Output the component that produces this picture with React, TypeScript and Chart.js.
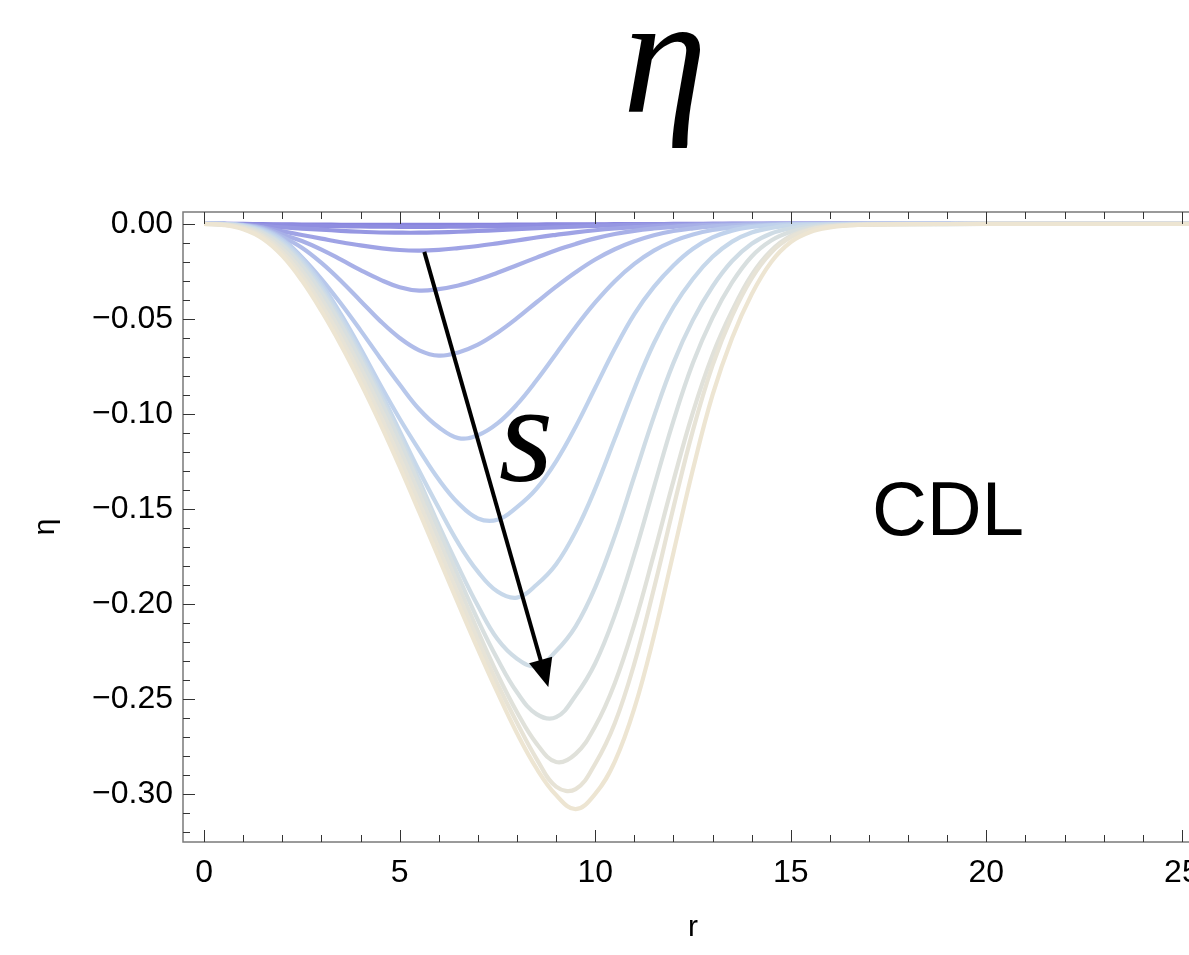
import React, { useEffect, useRef } from "react";
import { Chart, registerables } from "chart.js";

Chart.register(...registerables);

// radial coordinate samples
const R_VALUES = [
  0, 0.5, 1, 1.5, 2, 2.5, 3, 3.5, 4, 4.5, 5, 5.5, 6, 6.5, 7, 7.5, 8, 8.5,
  9, 9.5, 10, 10.5, 11, 11.5, 12, 12.5, 13, 13.5, 14, 14.5, 15, 15.5, 16, 16.5, 17, 18, 20, 26,
];

// eta(r) for increasing s
const ETA_S1 = [
  0, 0, 0, -0.0001, -0.0002, -0.0003, -0.0003, -0.0004, -0.0004, -0.0005, -0.0005, -0.0005, -0.0005, -0.0005, -0.0004, -0.0004, -0.0003, -0.0003,
  -0.0002, -0.0002, -0.0002, -0.0001, -0.0001, -0.0001, 0, 0, 0, 0, 0, 0, 0, 0, 0, 0, 0, 0, 0, 0,
];
const ETA_S2 = [
  0, 0, -0.0001, -0.0004, -0.0006, -0.0008, -0.001, -0.0012, -0.0013, -0.0014, -0.0015, -0.0015, -0.0015, -0.0014, -0.0013, -0.0012, -0.001, -0.0009,
  -0.0007, -0.0006, -0.0005, -0.0004, -0.0003, -0.0002, -0.0001, -0.0001, 0, 0, 0, 0, 0, 0, 0, 0, 0, 0, 0, 0,
];
const ETA_S3 = [
  0, 0, -0.0003, -0.001, -0.0018, -0.0024, -0.003, -0.0036, -0.0041, -0.0045, -0.0046, -0.0046, -0.0044, -0.0041, -0.0037, -0.0032, -0.0027, -0.0022,
  -0.0018, -0.0014, -0.001, -0.0007, -0.0005, -0.0004, -0.0002, -0.0001, -0.0001, 0, 0, 0, 0, 0, 0, 0, 0, 0, 0, 0,
];
const ETA_S4 = [
  0, 0, -0.0004, -0.0018, -0.0038, -0.0058, -0.0077, -0.0096, -0.0113, -0.0127, -0.0137, -0.014, -0.0136, -0.0127, -0.0116, -0.0102, -0.0087, -0.0071,
  -0.0057, -0.0044, -0.0033, -0.0024, -0.0017, -0.0011, -0.0007, -0.0005, -0.0003, -0.0002, -0.0001, 0, 0, 0, 0, 0, 0, 0, 0, 0,
];
const ETA_S5 = [
  0, 0, -0.0005, -0.0019, -0.0055, -0.009, -0.0135, -0.0188, -0.0243, -0.0293, -0.0333, -0.0351, -0.0343, -0.0324, -0.0294, -0.0257, -0.0217, -0.0177,
  -0.0138, -0.0105, -0.0076, -0.0053, -0.0036, -0.0024, -0.0015, -0.0009, -0.0005, -0.0003, -0.0001, 0, 0, 0, 0, 0, 0, 0, 0, 0,
];
const ETA_S6 = [
  0, 0, -0.0006, -0.0024, -0.0068, -0.0125, -0.0205, -0.03, -0.0405, -0.051, -0.06, -0.0665, -0.0693, -0.0676, -0.0635, -0.0572, -0.0496, -0.0412,
  -0.033, -0.0254, -0.0187, -0.0133, -0.0091, -0.0059, -0.0037, -0.0023, -0.0013, -0.0007, -0.0004, -0.0002, -0.0001, 0, 0, 0, 0, 0, 0, 0,
];
const ETA_S7 = [
  0, 0, -0.0007, -0.0028, -0.008, -0.0175, -0.029, -0.042, -0.056, -0.0705, -0.0845, -0.0975, -0.107, -0.1127, -0.1112, -0.105, -0.095, -0.0823,
  -0.0683, -0.0542, -0.0413, -0.0301, -0.021, -0.014, -0.009, -0.0055, -0.0032, -0.0018, -0.001, -0.0005, -0.0002, -0.0001, 0, 0, 0, 0, 0, 0,
];
const ETA_S8 = [
  0, 0, -0.0008, -0.0033, -0.0087, -0.0181, -0.0314, -0.0476, -0.0655, -0.0845, -0.1025, -0.119, -0.1345, -0.147, -0.155, -0.1557, -0.149, -0.1393,
  -0.1249, -0.1067, -0.0862, -0.0657, -0.0474, -0.0331, -0.0218, -0.013, -0.0071, -0.0035, -0.0016, -0.0007, -0.0003, -0.0002, -0.0001, 0, 0, 0, 0, 0,
];
const ETA_S9 = [
  0, -0.0001, -0.001, -0.0038, -0.0096, -0.0194, -0.033, -0.0494, -0.0678, -0.0879, -0.109, -0.13, -0.1495, -0.168, -0.183, -0.1935, -0.1967, -0.1899,
  -0.1791, -0.1619, -0.1393, -0.1131, -0.0867, -0.0628, -0.0437, -0.0288, -0.0173, -0.0093, -0.0045, -0.0021, -0.0009, -0.0005, -0.0002, -0.0001, 0, 0, 0, 0,
];
const ETA_S10 = [
  0, -0.0001, -0.0013, -0.0043, -0.0105, -0.0207, -0.0346, -0.0512, -0.0697, -0.09, -0.1118, -0.1349, -0.1585, -0.1805, -0.201, -0.2185, -0.2288, -0.2327,
  -0.2248, -0.2118, -0.1913, -0.1643, -0.1328, -0.1014, -0.0731, -0.0505, -0.0329, -0.0195, -0.0104, -0.005, -0.0023, -0.001, -0.0005, -0.0003, -0.0001, 0, 0, 0,
];
const ETA_S11 = [
  0, -0.0002, -0.0015, -0.0048, -0.0114, -0.022, -0.0362, -0.053, -0.0717, -0.0922, -0.1141, -0.1373, -0.1613, -0.1855, -0.2085, -0.229, -0.2465, -0.258,
  -0.2596, -0.2482, -0.2312, -0.2059, -0.1741, -0.1386, -0.1036, -0.0731, -0.0493, -0.0308, -0.0171, -0.0087, -0.0041, -0.0019, -0.0009, -0.0004, -0.0002, -0.0001, 0, 0,
];
const ETA_S12 = [
  0, -0.0003, -0.0019, -0.0058, -0.0132, -0.0246, -0.0394, -0.0566, -0.0757, -0.0964, -0.1187, -0.1421, -0.1661, -0.1903, -0.2143, -0.237, -0.257, -0.2735,
  -0.2832, -0.2789, -0.2644, -0.2417, -0.2107, -0.1738, -0.1352, -0.0991, -0.069, -0.0457, -0.0268, -0.014, -0.0063, -0.0027, -0.0012, -0.0005, -0.0002, -0.0001, 0, 0,
];
const ETA_S13 = [
  0, -0.0004, -0.0024, -0.0068, -0.015, -0.0272, -0.0426, -0.0602, -0.0796, -0.1007, -0.1232, -0.1468, -0.171, -0.1952, -0.219, -0.242, -0.2625, -0.2815,
  -0.2962, -0.2975, -0.2841, -0.2628, -0.2314, -0.192, -0.1492, -0.1085, -0.0744, -0.0484, -0.0286, -0.015, -0.007, -0.0031, -0.0013, -0.0006, -0.0003, -0.0001, 0, 0,
];
const ETA_S14 = [
  0, -0.0006, -0.0028, -0.0078, -0.0168, -0.0298, -0.0458, -0.0638, -0.0836, -0.105, -0.1278, -0.1516, -0.1758, -0.2, -0.2238, -0.2466, -0.2681, -0.2866,
  -0.3006, -0.308, -0.3, -0.283, -0.255, -0.217, -0.173, -0.129, -0.09, -0.06, -0.037, -0.02, -0.0095, -0.0042, -0.0018, -0.0008, -0.0004, -0.0001, 0, 0,
];

const CURVES = [
  ETA_S1, ETA_S2, ETA_S3, ETA_S4, ETA_S5, ETA_S6, ETA_S7,
  ETA_S8, ETA_S9, ETA_S10, ETA_S11, ETA_S12, ETA_S13, ETA_S14,
];

const CURVE_COLORS = [
  "#8884de", "#8f8de0", "#9697e2", "#9fa3e5", "#a8b0e7", "#b0bce9", "#b8c8eb",
  "#c0d2ec", "#c7d8ea", "#cfdce5", "#d8dfdf", "#e0e1da", "#e7e3d6", "#ede5d2",
];

const X_TICKS = [0, 5, 10, 15, 20, 25];
const Y_TICKS = [0, -0.05, -0.1, -0.15, -0.2, -0.25, -0.3];
const X_MIN = -0.54;
const X_MAX = 25.54;
const Y_MIN = -0.3253;
const Y_MAX = 0.0063;

// annotations (data coordinates)
const ARROW_FROM = [5.63, -0.0147];
const ARROW_TO = [8.8, -0.2437];
const S_LABEL_AT = [8.23, -0.1352];
const CDL_LABEL_AT = [19.02, -0.1635];

const TITLE_TEXT = "η";
const Y_TITLE = "η";
const X_TITLE = "r";
const NOTE_TEXT = "CDL";
const ARROW_LABEL = "s";

const fmtTick = (v: number) => {
  const a = Math.abs(v).toFixed(2);
  return v < -1e-9 ? "\u2212" + a : a;
};

const decorPlugin = {
  id: "decor",
  afterDatasetsDraw(chart: any) {
    const { ctx, scales } = chart;
    const x = scales.x;
    const y = scales.y;
    ctx.save();
    // arrow
    const x0 = x.getPixelForValue(ARROW_FROM[0]);
    const y0 = y.getPixelForValue(ARROW_FROM[1]);
    const x1 = x.getPixelForValue(ARROW_TO[0]);
    const y1 = y.getPixelForValue(ARROW_TO[1]);
    const ang = Math.atan2(y1 - y0, x1 - x0);
    const headLen = 28;
    const headW = 12;
    const bx = x1 - headLen * Math.cos(ang);
    const by = y1 - headLen * Math.sin(ang);
    ctx.strokeStyle = "#000";
    ctx.fillStyle = "#000";
    ctx.lineWidth = 4;
    ctx.beginPath();
    ctx.moveTo(x0, y0);
    ctx.lineTo(bx + 2 * Math.cos(ang), by + 2 * Math.sin(ang));
    ctx.stroke();
    ctx.beginPath();
    ctx.moveTo(x1, y1);
    ctx.lineTo(bx + headW * Math.sin(ang), by - headW * Math.cos(ang));
    ctx.lineTo(bx - headW * Math.sin(ang), by + headW * Math.cos(ang));
    ctx.closePath();
    ctx.fill();
    // s label
    ctx.font = 'italic 140px "Liberation Serif"';
    ctx.textAlign = "center";
    ctx.textBaseline = "alphabetic";
    ctx.fillText(ARROW_LABEL, x.getPixelForValue(S_LABEL_AT[0]), y.getPixelForValue(S_LABEL_AT[1]));
    // CDL
    ctx.font = '76px "Liberation Sans"';
    ctx.fillText(NOTE_TEXT, x.getPixelForValue(CDL_LABEL_AT[0]), y.getPixelForValue(CDL_LABEL_AT[1]));
    ctx.restore();
  },
  afterDraw(chart: any) {
    const { ctx, chartArea: a, scales } = chart;
    const x = scales.x;
    const y = scales.y;
    ctx.save();
    // frame
    ctx.strokeStyle = "#7a7a7a";
    ctx.lineWidth = 1.5;
    ctx.strokeRect(a.left, a.top, a.right - a.left, a.bottom - a.top);
    // ticks (inward)
    ctx.strokeStyle = "#333";
    ctx.lineWidth = 1;
    ctx.beginPath();
    for (let i = 0; i <= 32; i++) {
      const v = -i / 100;
      const py = Math.round(y.getPixelForValue(v)) + 0.5;
      const len = i % 5 === 0 ? 12 : 7;
      ctx.moveTo(a.left, py);
      ctx.lineTo(a.left + len, py);
      ctx.moveTo(a.right, py);
      ctx.lineTo(a.right - len, py);
    }
    for (let i = 0; i <= 25; i++) {
      const px = Math.round(x.getPixelForValue(i)) + 0.5;
      const len = i % 5 === 0 ? 12 : 7;
      ctx.moveTo(px, a.bottom);
      ctx.lineTo(px, a.bottom - len);
      ctx.moveTo(px, a.top);
      ctx.lineTo(px, a.top + len);
    }
    ctx.stroke();
    // titles
    ctx.fillStyle = "#000";
    ctx.textAlign = "center";
    ctx.textBaseline = "alphabetic";
    ctx.font = 'italic 170px "Liberation Serif"';
    ctx.fillText(TITLE_TEXT, 665, 112);
    ctx.font = '30px "Liberation Sans"';
    ctx.textBaseline = "middle";
    ctx.fillText(X_TITLE, 693, 928);
    ctx.save();
    ctx.translate(46, (a.top + a.bottom) / 2);
    ctx.rotate(-Math.PI / 2);
    ctx.fillText(Y_TITLE, 0, 0);
    ctx.restore();
    ctx.restore();
  },
};

export default function App() {
  const canvasRef = useRef<HTMLCanvasElement | null>(null);

  useEffect(() => {
    const canvas = canvasRef.current;
    if (!canvas) return;
    const datasets = CURVES.map((vals, i) => ({
      label: "s" + (i + 1),
      data: R_VALUES.map((r, j) => ({ x: r, y: vals[j] })),
      borderColor: CURVE_COLORS[i],
      backgroundColor: CURVE_COLORS[i],
      borderWidth: 4.2,
      pointRadius: 0,
      tension: 0.4,
      fill: false,
      order: CURVES.length - i,
    }));
    const chart = new Chart(canvas, {
      type: "line",
      data: { datasets },
      options: {
        animation: false,
        responsive: false,
        devicePixelRatio: 1,
        layout: { padding: { top: 212, right: 37, bottom: 0, left: 0 } },
        plugins: { legend: { display: false }, tooltip: { enabled: false }, title: { display: false } },
        scales: {
          x: {
            type: "linear",
            min: X_MIN,
            max: X_MAX,
            grid: { display: false, drawTicks: false },
            border: { display: false },
            afterBuildTicks: (s: any) => {
              s.ticks = X_TICKS.map((v) => ({ value: v }));
            },
            afterFit: (s: any) => {
              s.height = 113;
            },
            ticks: {
              padding: 12,
              color: "#000",
              maxRotation: 0,
              font: { family: "Liberation Sans", size: 32 },
              callback: (v: any) => String(v),
            },
          },
          y: {
            type: "linear",
            min: Y_MIN,
            max: Y_MAX,
            grid: { display: false, drawTicks: false },
            border: { display: false },
            afterBuildTicks: (s: any) => {
              s.ticks = Y_TICKS.map((v) => ({ value: v }));
            },
            afterFit: (s: any) => {
              s.width = 183;
            },
            ticks: {
              padding: 10,
              color: "#000",
              font: { family: "Liberation Sans", size: 32 },
              callback: (v: any) => fmtTick(Number(v)),
            },
          },
        },
      },
      plugins: [decorPlugin],
    });
    return () => chart.destroy();
  }, []);

  return (
    <div
      style={{
        position: "fixed",
        left: 0,
        top: 0,
        width: 1189,
        height: 955,
        overflow: "hidden",
        background: "#fff",
      }}
    >
      <canvas ref={canvasRef} width={1240} height={955} style={{ display: "block" }} />
    </div>
  );
}
